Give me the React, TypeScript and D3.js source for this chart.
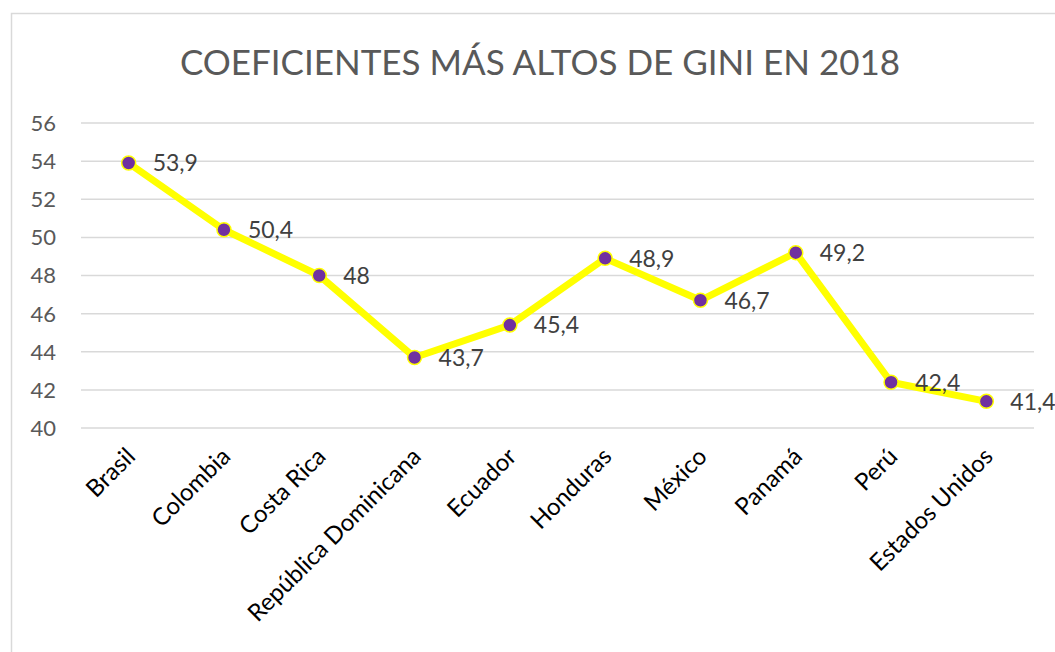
import * as d3 from "d3";

const countries = [
  "Brasil",
  "Colombia",
  "Costa Rica",
  "República Dominicana",
  "Ecuador",
  "Honduras",
  "México",
  "Panamá",
  "Perú",
  "Estados Unidos",
];
const gini = [53.9, 50.4, 48, 43.7, 45.4, 48.9, 46.7, 49.2, 42.4, 41.4];
const yTicks = [40, 42, 44, 46, 48, 50, 52, 54, 56];
const title = "COEFICIENTES MÁS ALTOS DE GINI EN 2018";

export default function App() {
  const width = 1055,
    height = 652;
  const marginLeft = 81,
    marginRight = 21,
    marginTop = 123,
    plotBottom = 428;
  const font = "Lato, 'Open Sans', sans-serif";

  const x = d3
    .scaleBand<string>()
    .domain(countries)
    .range([marginLeft, width - marginRight]);
  const y = d3.scaleLinear().domain([40, 56]).range([plotBottom, marginTop]);
  const cx = (c: string) => (x(c) ?? 0) + x.bandwidth() / 2;

  const data = countries.map((c, i) => ({ c, v: gini[i] }));
  const line = d3
    .line<{ c: string; v: number }>()
    .x((d) => cx(d.c))
    .y((d) => y(d.v));

  const fmt = (v: number) => String(v).replace(".", ",");

  return (
    <svg
      width={width}
      height={height}
      style={{ position: "absolute", left: 0, top: 0, background: "#fff" }}
      fontFamily={font}
    >
      <rect x={0} y={0} width={width} height={height} fill="#fff" />
      <rect
        x={11.5}
        y={13.5}
        width={width + 10}
        height={height + 10}
        fill="none"
        stroke="#d9d9d9"
        strokeWidth={1.5}
      />
      <text x={540} y={75} textAnchor="middle" fontSize={35} fill="#595959">
        {title}
      </text>

      {/* gridlines + y labels */}
      {yTicks.map((t) => (
        <g key={t}>
          <line
            x1={marginLeft}
            x2={width - marginRight}
            y1={y(t)}
            y2={y(t)}
            stroke="#d9d9d9"
            strokeWidth={1.5}
          />
          <text
            x={56}
            y={y(t)}
            dy="0.36em"
            textAnchor="end"
            fontSize={22}
            fill="#595959"
          >
            {t}
          </text>
        </g>
      ))}

      {/* category labels */}
      {countries.map((c) => (
        <text
          key={c}
          transform={`translate(${cx(c) + 8},${plotBottom + 30}) rotate(-45)`}
          textAnchor="end"
          fontSize={24}
          fill="#000"
        >
          {c}
        </text>
      ))}

      <path
        d={line(data) ?? ""}
        fill="none"
        stroke="#ffff00"
        strokeWidth={7}
        strokeLinejoin="round"
      />
      {data.map((d) => (
        <circle
          key={d.c}
          cx={cx(d.c)}
          cy={y(d.v)}
          r={7}
          fill="#7030a0"
          stroke="#ffff00"
          strokeWidth={1.5}
        />
      ))}
      {data.map((d) => (
        <text
          key={"l" + d.c}
          x={cx(d.c) + 24}
          y={y(d.v)}
          dy="0.36em"
          fontSize={23}
          fill="#404040"
        >
          {fmt(d.v)}
        </text>
      ))}
    </svg>
  );
}
